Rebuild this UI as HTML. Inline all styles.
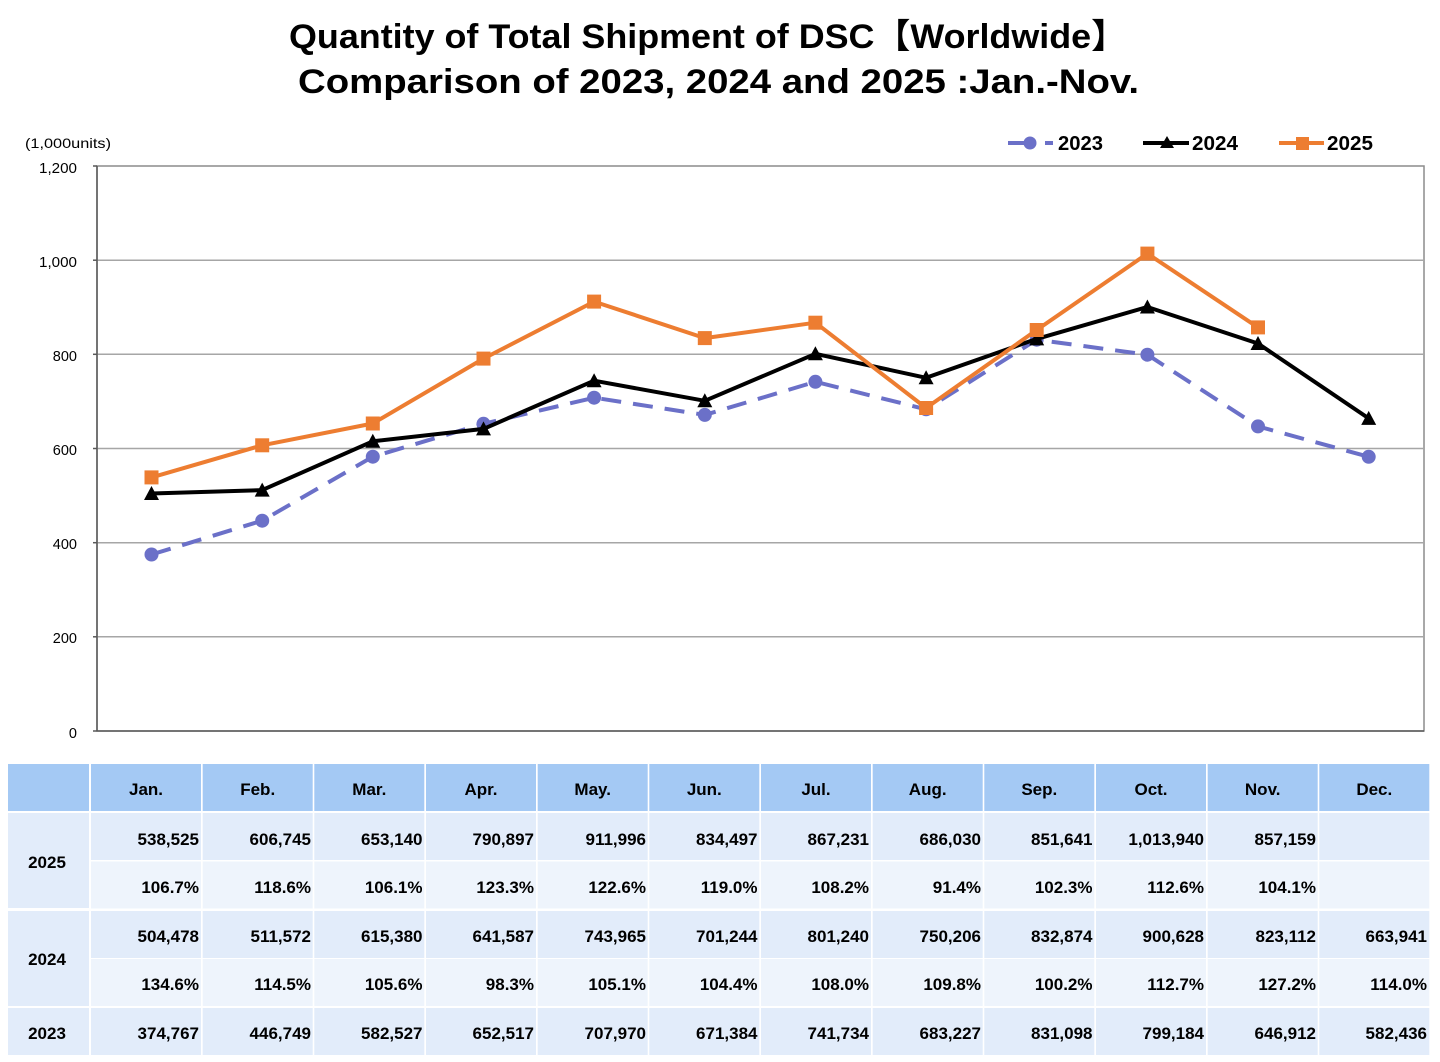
<!DOCTYPE html>
<html><head><meta charset="utf-8"><style>
html,body{margin:0;padding:0;background:#fff;}
svg{display:block;}
text{font-family:"Liberation Sans","Noto Sans CJK JP",sans-serif;}
</style></head><body>
<svg width="1440" height="1062" viewBox="0 0 1440 1062" xmlns="http://www.w3.org/2000/svg">
<rect width="1440" height="1062" fill="#fff"/>
<!-- Title -->
<text x="289" y="48" font-size="34" font-weight="bold" fill="#000" textLength="838" lengthAdjust="spacingAndGlyphs">Quantity of Total Shipment of DSC【Worldwide】</text>
<text x="298" y="93" font-size="34" font-weight="bold" fill="#000" textLength="841" lengthAdjust="spacingAndGlyphs">Comparison of 2023, 2024 and 2025 :Jan.-Nov.</text>

<!-- units -->
<text x="25" y="148" font-size="14" fill="#000" textLength="86" lengthAdjust="spacingAndGlyphs">(1,000units)</text>

<!-- Legend -->
<g>
<line x1="1008" y1="143" x2="1053" y2="143" stroke="#6b70c8" stroke-width="4" stroke-dasharray="26,11"/>
<circle cx="1030" cy="143" r="6.5" fill="#6b70c8"/>
<text x="1058" y="150" font-size="20" font-weight="bold" textLength="45" lengthAdjust="spacingAndGlyphs">2023</text>
<line x1="1143" y1="143" x2="1189" y2="143" stroke="#000" stroke-width="4"/>
<polygon points="1167,136 1174,148 1160,148" fill="#000"/>
<text x="1192" y="150" font-size="20" font-weight="bold" textLength="46" lengthAdjust="spacingAndGlyphs">2024</text>
<line x1="1279" y1="143" x2="1324" y2="143" stroke="#ed7d31" stroke-width="4"/>
<rect x="1296" y="137" width="13" height="13" fill="#ed7d31"/>
<text x="1327" y="150" font-size="20" font-weight="bold" textLength="46" lengthAdjust="spacingAndGlyphs">2025</text>
</g>

<!-- Plot area -->
<rect x="97" y="166" width="1327" height="565" fill="#fff" stroke="#8c8c8c" stroke-width="1.5"/>
<g stroke="#a6a6a6" stroke-width="1.5">
<line x1="97" y1="636.8" x2="1424" y2="636.8"/>
<line x1="97" y1="542.7" x2="1424" y2="542.7"/>
<line x1="97" y1="448.5" x2="1424" y2="448.5"/>
<line x1="97" y1="354.3" x2="1424" y2="354.3"/>
<line x1="97" y1="260.2" x2="1424" y2="260.2"/>
</g>
<g stroke="#595959" stroke-width="1.5">
<line x1="97" y1="166" x2="97" y2="731"/>
<line x1="93" y1="731" x2="1424" y2="731"/>
<line x1="93" y1="166" x2="97" y2="166"/>
<line x1="93" y1="260.2" x2="97" y2="260.2"/>
<line x1="93" y1="354.3" x2="97" y2="354.3"/>
<line x1="93" y1="448.5" x2="97" y2="448.5"/>
<line x1="93" y1="542.7" x2="97" y2="542.7"/>
<line x1="93" y1="636.8" x2="97" y2="636.8"/>
</g>
<g font-size="14.5" fill="#000" text-anchor="end">
<text x="77" y="173" textLength="38" lengthAdjust="spacingAndGlyphs">1,200</text>
<text x="77" y="267" textLength="38" lengthAdjust="spacingAndGlyphs">1,000</text>
<text x="77" y="361">800</text>
<text x="77" y="455">600</text>
<text x="77" y="549">400</text>
<text x="77" y="643">200</text>
<text x="77" y="738">0</text>
</g>

<!-- 2023 -->
<polyline fill="none" stroke="#6b70c8" stroke-width="4" stroke-dasharray="20,12" points="151.5,554.5 262.2,520.7 372.8,456.7 483.5,423.8 594.1,397.7 704.8,414.9 815.4,381.8 926.1,409.3 1036.7,339.7 1147.4,354.7 1258,426.4 1368.7,456.8"/>
<g fill="#6b70c8">
<circle cx="151.5" cy="554.5" r="7"/><circle cx="262.2" cy="520.7" r="7"/><circle cx="372.8" cy="456.7" r="7"/><circle cx="483.5" cy="423.8" r="7"/><circle cx="594.1" cy="397.7" r="7"/><circle cx="704.8" cy="414.9" r="7"/><circle cx="815.4" cy="381.8" r="7"/><circle cx="926.1" cy="409.3" r="7"/><circle cx="1036.7" cy="339.7" r="7"/><circle cx="1147.4" cy="354.7" r="7"/><circle cx="1258" cy="426.4" r="7"/><circle cx="1368.7" cy="456.8" r="7"/>
</g>

<!-- 2024 -->
<polyline fill="none" stroke="#000" stroke-width="4" stroke-linejoin="round" points="151.5,493.5 262.2,490.1 372.8,441.3 483.5,428.9 594.1,380.7 704.8,400.8 815.4,353.8 926.1,377.8 1036.7,338.9 1147.4,307 1258,343.5 1368.7,418.4"/>
<g fill="#000">
<polygon points="151.5,486 159,500 144,500"/>
<polygon points="262.2,482.6 269.7,496.6 254.7,496.6"/>
<polygon points="372.8,433.8 380.3,447.8 365.3,447.8"/>
<polygon points="483.5,421.4 491,435.4 476,435.4"/>
<polygon points="594.1,373.2 601.6,387.2 586.6,387.2"/>
<polygon points="704.8,393.3 712.3,407.3 697.3,407.3"/>
<polygon points="815.4,346.3 822.9,360.3 807.9,360.3"/>
<polygon points="926.1,370.3 933.6,384.3 918.6,384.3"/>
<polygon points="1036.7,331.4 1044.2,345.4 1029.2,345.4"/>
<polygon points="1147.4,299.5 1154.9,313.5 1139.9,313.5"/>
<polygon points="1258,336 1265.5,350 1250.5,350"/>
<polygon points="1368.7,410.9 1376.2,424.9 1361.2,424.9"/>
</g>

<!-- 2025 -->
<polyline fill="none" stroke="#ed7d31" stroke-width="4" stroke-linejoin="round" points="151.5,477.4 262.2,445.3 372.8,423.5 483.5,358.6 594.1,301.6 704.8,338.1 815.4,322.7 926.1,408 1036.7,330 1147.4,253.6 1258,327.4"/>
<g fill="#ed7d31">
<rect x="144.5" y="470.4" width="14" height="14"/>
<rect x="255.2" y="438.3" width="14" height="14"/>
<rect x="365.8" y="416.5" width="14" height="14"/>
<rect x="476.5" y="351.6" width="14" height="14"/>
<rect x="587.1" y="294.6" width="14" height="14"/>
<rect x="697.8" y="331.1" width="14" height="14"/>
<rect x="808.4" y="315.7" width="14" height="14"/>
<rect x="919.1" y="401" width="14" height="14"/>
<rect x="1029.7" y="323" width="14" height="14"/>
<rect x="1140.4" y="246.6" width="14" height="14"/>
<rect x="1251" y="320.4" width="14" height="14"/>
</g>

<!-- Table backgrounds -->
<g>
<rect x="8" y="764" width="81" height="47" fill="#a4c9f4"/>
<g fill="#a4c9f4">
<rect x="91" y="764" width="110" height="47"/><rect x="202.7" y="764" width="110" height="47"/><rect x="314.3" y="764" width="110" height="47"/><rect x="426" y="764" width="110" height="47"/><rect x="537.7" y="764" width="110" height="47"/><rect x="649.3" y="764" width="110" height="47"/><rect x="761" y="764" width="110" height="47"/><rect x="872.7" y="764" width="110" height="47"/><rect x="984.3" y="764" width="110" height="47"/><rect x="1096" y="764" width="110" height="47"/><rect x="1207.7" y="764" width="110" height="47"/><rect x="1319.3" y="764" width="110" height="47"/>
</g>
<rect x="8" y="813" width="81" height="95" fill="#e2ecfa"/>
<rect x="8" y="911" width="81" height="95" fill="#e2ecfa"/>
<rect x="8" y="1008" width="81" height="47" fill="#e2ecfa"/>
</g>
<defs>
<g id="rowv">
<rect x="91" y="0" width="110" height="47"/><rect x="202.7" y="0" width="110" height="47"/><rect x="314.3" y="0" width="110" height="47"/><rect x="426" y="0" width="110" height="47"/><rect x="537.7" y="0" width="110" height="47"/><rect x="649.3" y="0" width="110" height="47"/><rect x="761" y="0" width="110" height="47"/><rect x="872.7" y="0" width="110" height="47"/><rect x="984.3" y="0" width="110" height="47"/><rect x="1096" y="0" width="110" height="47"/><rect x="1207.7" y="0" width="110" height="47"/><rect x="1319.3" y="0" width="110" height="47"/>
</g>
</defs>
<use href="#rowv" y="813" fill="#e2ecfa"/>
<use href="#rowv" y="861.5" fill="#eef4fc"/>
<use href="#rowv" y="911" fill="#e2ecfa"/>
<use href="#rowv" y="959" fill="#eef4fc"/>
<use href="#rowv" y="1008" fill="#e2ecfa"/>

<!-- header text -->
<g font-size="17" font-weight="bold" text-anchor="middle" fill="#000">
<text x="146" y="795">Jan.</text><text x="257.7" y="795">Feb.</text><text x="369.3" y="795">Mar.</text><text x="481" y="795">Apr.</text><text x="592.7" y="795">May.</text><text x="704.3" y="795">Jun.</text><text x="816" y="795">Jul.</text><text x="927.7" y="795">Aug.</text><text x="1039.3" y="795">Sep.</text><text x="1151" y="795">Oct.</text><text x="1262.7" y="795">Nov.</text><text x="1374.3" y="795">Dec.</text>
<text x="47" y="868">2025</text>
<text x="47" y="965">2024</text>
<text x="47" y="1039">2023</text>
</g>

<g font-size="17" font-weight="bold" text-anchor="end" fill="#000">
<text x="199" y="845">538,525</text><text x="311" y="845">606,745</text><text x="422.5" y="845">653,140</text><text x="534" y="845">790,897</text><text x="646" y="845">911,996</text><text x="757.5" y="845">834,497</text><text x="869" y="845">867,231</text><text x="981" y="845">686,030</text><text x="1092.5" y="845">851,641</text><text x="1204" y="845">1,013,940</text><text x="1316" y="845">857,159</text>
<text x="199" y="893">106.7%</text><text x="311" y="893">118.6%</text><text x="422.5" y="893">106.1%</text><text x="534" y="893">123.3%</text><text x="646" y="893">122.6%</text><text x="757.5" y="893">119.0%</text><text x="869" y="893">108.2%</text><text x="981" y="893">91.4%</text><text x="1092.5" y="893">102.3%</text><text x="1204" y="893">112.6%</text><text x="1316" y="893">104.1%</text>
<text x="199" y="942">504,478</text><text x="311" y="942">511,572</text><text x="422.5" y="942">615,380</text><text x="534" y="942">641,587</text><text x="646" y="942">743,965</text><text x="757.5" y="942">701,244</text><text x="869" y="942">801,240</text><text x="981" y="942">750,206</text><text x="1092.5" y="942">832,874</text><text x="1204" y="942">900,628</text><text x="1316" y="942">823,112</text><text x="1427" y="942">663,941</text>
<text x="199" y="990">134.6%</text><text x="311" y="990">114.5%</text><text x="422.5" y="990">105.6%</text><text x="534" y="990">98.3%</text><text x="646" y="990">105.1%</text><text x="757.5" y="990">104.4%</text><text x="869" y="990">108.0%</text><text x="981" y="990">109.8%</text><text x="1092.5" y="990">100.2%</text><text x="1204" y="990">112.7%</text><text x="1316" y="990">127.2%</text><text x="1427" y="990">114.0%</text>
<text x="199" y="1039">374,767</text><text x="311" y="1039">446,749</text><text x="422.5" y="1039">582,527</text><text x="534" y="1039">652,517</text><text x="646" y="1039">707,970</text><text x="757.5" y="1039">671,384</text><text x="869" y="1039">741,734</text><text x="981" y="1039">683,227</text><text x="1092.5" y="1039">831,098</text><text x="1204" y="1039">799,184</text><text x="1316" y="1039">646,912</text><text x="1427" y="1039">582,436</text>
</g>
</svg>
</body></html>
